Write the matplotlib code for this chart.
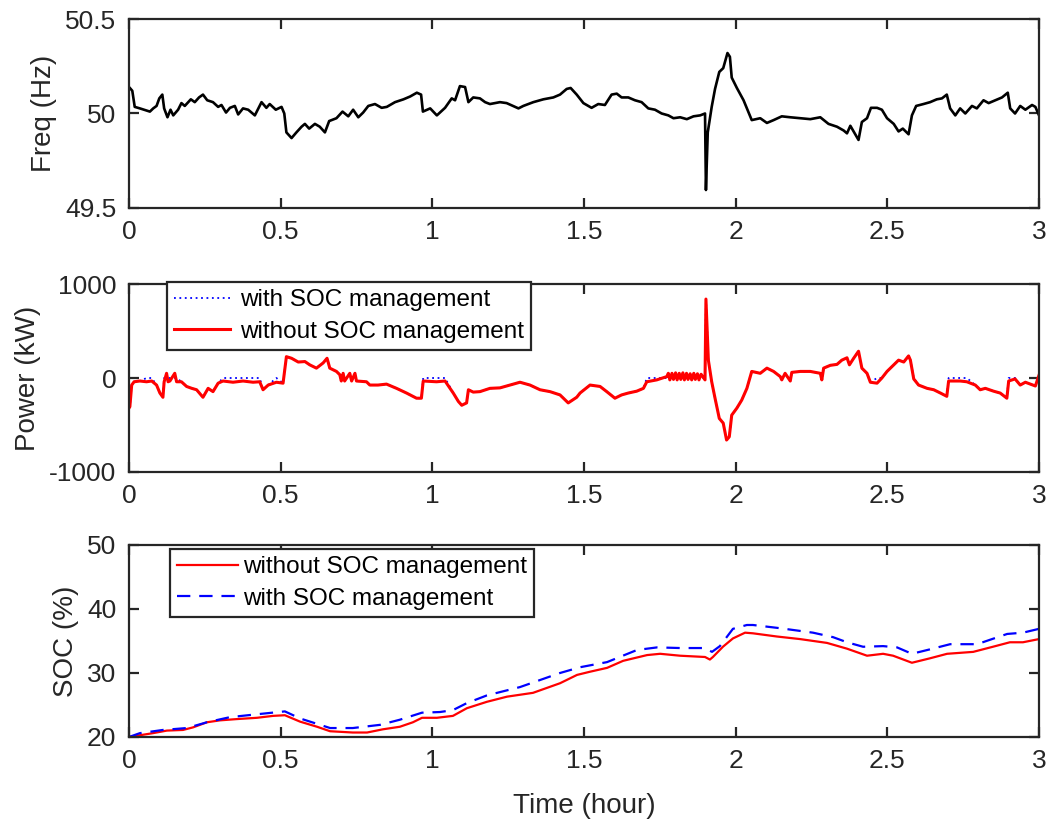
import matplotlib

matplotlib.use("Agg")
import matplotlib.pyplot as plt
import numpy as np

plt.rcParams["font.family"] = ["Liberation Sans", "DejaVu Sans"]
plt.rcParams["axes.unicode_minus"] = False

# --- grid frequency (Hz) ---
freq_t = [0.0, 0.003, 0.011, 0.019, 0.036, 0.069, 0.080, 0.091, 0.100, 0.110, 0.116, 0.127,
          0.137, 0.146, 0.162, 0.173, 0.184, 0.204, 0.217, 0.231, 0.244, 0.258, 0.277, 0.294,
          0.305, 0.320, 0.333, 0.349, 0.360, 0.376, 0.393, 0.415, 0.437, 0.453, 0.464, 0.484,
          0.503, 0.512, 0.519, 0.536, 0.552, 0.569, 0.580, 0.594, 0.613, 0.629, 0.646, 0.660,
          0.684, 0.704, 0.723, 0.739, 0.756, 0.772, 0.789, 0.811, 0.833, 0.850, 0.877, 0.905,
          0.927, 0.949, 0.963, 0.969, 0.993, 1.015, 1.042, 1.064, 1.075, 1.091, 1.108, 1.119,
          1.135, 1.157, 1.174, 1.190, 1.223, 1.245, 1.284, 1.300, 1.333, 1.366, 1.399, 1.421,
          1.443, 1.456, 1.476, 1.498, 1.509, 1.525, 1.547, 1.569, 1.591, 1.608, 1.624, 1.646,
          1.668, 1.690, 1.712, 1.734, 1.756, 1.778, 1.795, 1.817, 1.839, 1.861, 1.883, 1.899,
          1.902, 1.908, 1.921, 1.932, 1.946, 1.959, 1.973, 1.981, 1.987, 2.004, 2.026, 2.053,
          2.081, 2.103, 2.125, 2.152, 2.180, 2.213, 2.246, 2.279, 2.306, 2.334, 2.356, 2.367,
          2.378, 2.394, 2.405, 2.416, 2.433, 2.446, 2.466, 2.482, 2.499, 2.521, 2.537, 2.551,
          2.570, 2.581, 2.595, 2.619, 2.641, 2.663, 2.680, 2.696, 2.707, 2.724, 2.740, 2.757,
          2.779, 2.795, 2.817, 2.834, 2.856, 2.878, 2.897, 2.905, 2.921, 2.938, 2.955, 2.977,
          2.988, 3.0]
freq_hz = [50.14, 50.135, 50.12, 50.035, 50.027, 50.01, 50.027, 50.04, 50.08, 50.10, 50.027, 49.98,
           50.02, 49.99, 50.02, 50.055, 50.04, 50.075, 50.06, 50.085, 50.10, 50.07, 50.06, 50.035,
           50.045, 50.005, 50.03, 50.04, 49.995, 50.027, 50.02, 49.99, 50.06, 50.03, 50.05, 50.02,
           50.035, 50.00, 49.90, 49.87, 49.90, 49.93, 49.945, 49.92, 49.945, 49.93, 49.90, 49.96,
           49.975, 50.01, 49.985, 50.02, 49.98, 50.005, 50.04, 50.05, 50.03, 50.035, 50.06, 50.075,
           50.09, 50.11, 50.10, 50.01, 50.027, 49.99, 50.03, 50.08, 50.07, 50.145, 50.14, 50.06,
           50.085, 50.08, 50.06, 50.05, 50.06, 50.055, 50.027, 50.04, 50.06, 50.075, 50.085, 50.10,
           50.13, 50.135, 50.10, 50.055, 50.045, 50.03, 50.05, 50.045, 50.10, 50.105, 50.085, 50.085,
           50.07, 50.06, 50.027, 50.02, 50.00, 49.99, 49.975, 49.98, 49.97, 49.985, 49.99, 50.00,
           49.595, 49.90, 50.035, 50.13, 50.22, 50.24, 50.32, 50.30, 50.19, 50.135, 50.07, 49.965,
           49.975, 49.95, 49.965, 49.985, 49.98, 49.975, 49.97, 49.98, 49.945, 49.93, 49.91, 49.895,
           49.935, 49.89, 49.86, 49.955, 49.975, 50.03, 50.03, 50.02, 49.975, 49.945, 49.905, 49.92,
           49.89, 49.99, 50.04, 50.05, 50.06, 50.075, 50.08, 50.10, 50.027, 49.99, 50.027, 50.00,
           50.04, 50.027, 50.07, 50.055, 50.07, 50.085, 50.11, 50.027, 50.00, 50.04, 50.02, 50.045,
           50.035, 49.99]

# --- BESS power (kW) without SOC management ---
pw_t = [0.0, 0.003, 0.009, 0.017, 0.036, 0.058, 0.075, 0.091, 0.102, 0.112, 0.116, 0.124, 0.129,
        0.135, 0.151, 0.157, 0.173, 0.190, 0.207, 0.223, 0.244, 0.261, 0.277, 0.294, 0.310,
        0.343, 0.376, 0.409, 0.431, 0.442, 0.459, 0.486, 0.508, 0.519, 0.536, 0.558, 0.580,
        0.596, 0.618, 0.640, 0.653, 0.662, 0.684, 0.695, 0.700, 0.706, 0.711, 0.728, 0.734,
        0.745, 0.750, 0.783, 0.794, 0.821, 0.849, 0.882, 0.915, 0.948, 0.964, 0.970, 1.014,
        1.042, 1.069, 1.086, 1.097, 1.113, 1.119, 1.135, 1.157, 1.190, 1.223, 1.256, 1.289,
        1.322, 1.355, 1.388, 1.421, 1.448, 1.476, 1.487, 1.520, 1.553, 1.575, 1.602, 1.624,
        1.646, 1.674, 1.696, 1.707, 1.740, 1.773, 1.778, 1.783, 1.790, 1.795, 1.802, 1.807,
        1.814, 1.819, 1.826, 1.831, 1.838, 1.843, 1.850, 1.855, 1.862, 1.867, 1.874, 1.879,
        1.886, 1.899, 1.902, 1.910, 1.921, 1.932, 1.946, 1.959, 1.970, 1.979, 1.987, 2.004,
        2.020, 2.037, 2.053, 2.081, 2.103, 2.125, 2.147, 2.152, 2.163, 2.180, 2.185, 2.213,
        2.246, 2.279, 2.284, 2.290, 2.312, 2.334, 2.350, 2.367, 2.375, 2.389, 2.405, 2.416,
        2.433, 2.444, 2.466, 2.482, 2.499, 2.521, 2.537, 2.554, 2.570, 2.576, 2.587, 2.603,
        2.631, 2.653, 2.675, 2.696, 2.702, 2.740, 2.762, 2.790, 2.806, 2.823, 2.850, 2.872,
        2.894, 2.900, 2.921, 2.938, 2.955, 2.988, 3.0]
pw_kw = [-320, -305, -75, -40, -32, -40, -32, -75, -160, -205, -40, 50, -40,
         -32, 50, -40, -40, -90, -110, -125, -205, -110, -145, -55, -32,
         -45, -32, -45, -40, -125, -75, -45, -55, 227, 210, 170, 175,
         140, 105, 160, 210, 105, 70, 35, -32, 50, -32, 50, -32,
         50, -32, -40, -75, -75, -65, -110, -160, -215, -215, -32, -40,
         -32, -160, -250, -290, -265, -125, -150, -145, -110, -105, -75, -45,
         -75, -125, -145, -180, -265, -205, -160, -75, -90, -145, -215, -180,
         -160, -140, -110, -40, -20, 15, 50, -20, 50, -15, 55, -20,
         50, -15, 55, -20, 50, -15, 45, -20, 50, -15, 45, -20,
         40, -20, 840, 190, -40, -215, -430, -480, -660, -625, -395, -320,
         -235, -110, 70, 50, 105, 70, 15, -20, 50, -32, 60, 70,
         70, 50, -20, 105, 135, 145, 190, 215, 140, 210, 285, 105,
         50, -45, -55, 0, 70, 140, 190, 170, 235, 190, -10, -75,
         -110, -125, -160, -195, -32, -32, -40, -75, -125, -110, -140, -160,
         -215, -32, -10, -75, -45, -85, 30]

# windows (hours) in which the managed BESS sits at 0 kW instead of drifting
deadband = [(0.04, 0.16), (0.30, 0.50), (0.95, 1.05), (1.70, 1.90),
            (2.46, 2.50), (2.585, 2.61), (2.70, 2.77), (2.90, 2.93)]

# --- SOC (%) ---
soc_t_off = [0.0, 0.079, 0.125, 0.178, 0.211, 0.257, 0.300, 0.356, 0.422, 0.475, 0.514, 0.564,
             0.620, 0.663, 0.738, 0.785, 0.837, 0.893, 0.936, 0.966, 1.015, 1.068, 1.114, 1.180,
             1.246, 1.332, 1.421, 1.477, 1.520, 1.576, 1.629, 1.708, 1.751, 1.817, 1.899, 1.915,
             1.925, 1.958, 1.991, 2.031, 2.057, 2.136, 2.212, 2.301, 2.367, 2.433, 2.486, 2.519,
             2.581, 2.641, 2.697, 2.783, 2.848, 2.904, 2.947, 3.0]
soc_off = [20.0, 20.6, 21.0, 21.1, 21.5, 22.3, 22.6, 22.8, 23.0, 23.3, 23.4, 22.4,
           21.6, 20.9, 20.7, 20.7, 21.2, 21.6, 22.3, 23.0, 23.0, 23.3, 24.5, 25.5,
           26.3, 26.9, 28.4, 29.7, 30.2, 30.8, 31.9, 32.8, 33.0, 32.7, 32.5, 32.1,
           32.5, 34.1, 35.4, 36.3, 36.2, 35.7, 35.3, 34.7, 33.8, 32.7, 33.0, 32.7,
           31.6, 32.3, 33.0, 33.3, 34.1, 34.8, 34.8, 35.3]
soc_t_on = [0.0, 0.036, 0.112, 0.191, 0.257, 0.333, 0.432, 0.514, 0.564, 0.663, 0.738, 0.828,
            0.893, 0.966, 1.025, 1.068, 1.114, 1.180, 1.289, 1.355, 1.421, 1.487, 1.576, 1.675,
            1.741, 1.817, 1.899, 1.922, 1.948, 1.991, 2.037, 2.057, 2.146, 2.255, 2.321, 2.367,
            2.420, 2.486, 2.532, 2.581, 2.641, 2.707, 2.796, 2.839, 2.895, 2.947, 3.0]
soc_on = [20.0, 20.6, 21.1, 21.4, 22.3, 23.1, 23.6, 24.0, 22.9, 21.4, 21.4, 21.9,
          22.7, 23.8, 23.9, 24.2, 25.3, 26.5, 27.8, 28.9, 30.0, 30.9, 31.7, 33.6,
          34.0, 33.9, 33.9, 33.3, 34.2, 36.9, 37.5, 37.5, 37.0, 36.3, 35.6, 34.8,
          34.1, 34.2, 34.0, 33.0, 33.7, 34.5, 34.5, 35.2, 36.1, 36.3, 36.9]

INK = "#262626"
TICK_FS = 19
LABEL_FS = 20
LEG_FS = 17.5

pw_t_arr = np.array(pw_t)
pw_on = np.array(pw_kw, dtype=float)
for a, b in deadband:
    m = (pw_t_arr >= a) & (pw_t_arr <= b) & (np.abs(pw_on) < 70)
    pw_on[m] = 0.0


def style(ax, ylim, yticks):
    ax.set_xlim(0, 3)
    ax.set_ylim(*ylim)
    ax.set_xticks([0, 0.5, 1, 1.5, 2, 2.5, 3])
    ax.set_xticklabels(["0", "0.5", "1", "1.5", "2", "2.5", "3"])
    ax.set_yticks(yticks)
    ax.tick_params(direction="in", length=7, width=1.6, top=True, right=True,
                   labelsize=TICK_FS, colors=INK, pad=9)
    for s in ax.spines.values():
        s.set_linewidth(1.6)
        s.set_color(INK)


def legend(ax, anchor, hlen, hpad):
    leg = ax.legend(loc="upper left", bbox_to_anchor=anchor, borderaxespad=0,
                    fontsize=LEG_FS, frameon=True, fancybox=False, framealpha=1,
                    edgecolor=INK, handlelength=hlen, handletextpad=hpad,
                    labelspacing=0.4, borderpad=0.3)
    leg.get_frame().set_linewidth(1.6)
    return leg


fig = plt.figure(figsize=(10.51, 8.23), dpi=100)
L, W = 0.1227, 0.8659
ax1 = fig.add_axes([L, 0.7473, W, 0.2296])
ax2 = fig.add_axes([L, 0.4265, W, 0.2284])
ax3 = fig.add_axes([L, 0.1045, W, 0.2333])

ax1.plot(freq_t, freq_hz, color="black", lw=1.9)
style(ax1, (49.5, 50.5), [49.5, 50, 50.5])
ax1.set_yticklabels(["49.5", "50", "50.5"])
ax1.set_ylabel("Freq (Hz)", fontsize=LABEL_FS, color=INK, labelpad=6)

ax2.plot(pw_t, pw_on, color="blue", ls=(0, (1, 2)), lw=1.3, label="with SOC management")
ax2.plot(pw_t, pw_kw, color="red", lw=2.2, label="without SOC management")
style(ax2, (-1000, 1000), [-1000, 0, 1000])
ax2.set_ylabel("Power (kW)", fontsize=LABEL_FS, color=INK, labelpad=6)
legend(ax2, (0.042, 1.012), 2.3, 0.4)

ax3.plot(soc_t_off, soc_off, color="red", lw=1.6, label="without SOC management")
ax3.plot(soc_t_on, soc_on, color="blue", lw=1.6, ls=(0, (6, 4)), label="with SOC management")
style(ax3, (20, 50), [20, 30, 40, 50])
ax3.set_ylabel("SOC (%)", fontsize=LABEL_FS, color=INK, labelpad=6)
ax3.set_xlabel("Time (hour)", fontsize=LABEL_FS, color=INK, labelpad=14)
legend(ax3, (0.045, 0.98), 2.5, 0.2)

fig.savefig("out.png", dpi=100)
